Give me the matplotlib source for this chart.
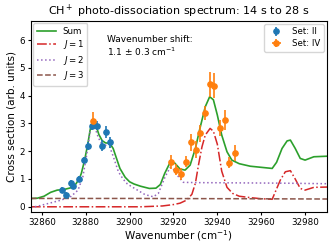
import numpy as np
import matplotlib
matplotlib.use("Agg")
import matplotlib.pyplot as plt

# --- model curves ---
sum_x = [32855, 32858, 32861, 32864, 32867, 32870, 32873, 32875.5, 32877, 32878,
         32879.5, 32881, 32882, 32883, 32884, 32885, 32886, 32887.5, 32889, 32891,
         32892.5, 32894, 32895.6, 32898, 32900, 32902, 32905, 32909, 32912, 32914,
         32916, 32918.5, 32920.5, 32923, 32925.3, 32927.6, 32930, 32932, 32934.5,
         32936.5, 32938.2, 32940, 32942, 32944.4, 32946.6, 32950, 32955, 32960,
         32965, 32967, 32969.5, 32971.8, 32973.3, 32975.5, 32977.8, 32980, 32984, 32990]
sum_y = [0.30, 0.31, 0.38, 0.52, 0.60, 0.62, 0.68, 0.82, 1.00, 1.20,
         1.68, 2.28, 2.76, 3.06, 3.10, 2.85, 2.60, 2.38, 2.30, 2.28,
         2.10, 1.75, 1.38, 1.06, 0.90, 0.82, 0.74, 0.66, 0.67, 0.80,
         1.20, 1.60, 1.58, 1.36, 1.32, 1.50, 2.10, 2.80, 3.60,
         3.96, 3.85, 3.30, 2.58, 1.98, 1.68, 1.55, 1.46, 1.42,
         1.38, 1.60, 2.10, 2.37, 2.40, 2.10, 1.74, 1.68, 1.80, 1.82]

j1_x = [32855, 32905, 32915, 32920, 32923, 32926, 32928.4, 32930, 32931.4, 32933,
        32934.5, 32936.7, 32938.2, 32940, 32942, 32944.4, 32947, 32950, 32955, 32960,
        32965, 32968.7, 32971, 32973.3, 32975.5, 32977.8, 32980, 32984, 32990]
j1_y = [0.0, 0.0, 0.03, 0.08, 0.13, 0.24, 0.45, 0.85, 1.50, 2.16,
        2.58, 2.82, 2.72, 2.25, 1.28, 0.70, 0.48, 0.38, 0.33, 0.29,
        0.27, 0.96, 1.26, 1.30, 1.00, 0.66, 0.60, 0.70, 0.71]

j2_x = [32855, 32858, 32864, 32868.8, 32873.4, 32876.5, 32878.7, 32880.3, 32882, 32883.8,
        32885.7, 32888, 32890.3, 32892.6, 32894.9, 32897, 32899, 32902.5, 32907, 32910.8,
        32913.1, 32916.2, 32918.5, 32920, 32922.3, 32924.5, 32930, 32950, 32970, 32990]
j2_y = [-0.02, 0.02, 0.14, 0.24, 0.38, 0.60, 1.08, 1.80, 2.70, 2.95,
        2.50, 2.14, 2.30, 1.80, 1.26, 1.00, 0.82, 0.65, 0.44, 0.36,
        0.48, 1.08, 1.42, 1.34, 1.08, 0.88, 0.87, 0.86, 0.85, 0.83]

j3_x = [32855, 32900, 32950, 32990]
j3_y = [0.30, 0.30, 0.29, 0.28]

# --- measured points ---
set2_x = [32869.0, 32870.8, 32873.3, 32874.4, 32876.9, 32879.1, 32880.9, 32883.0,
          32885.0, 32887.6, 32889.2, 32891.0]
set2_y = [0.60, 0.43, 0.85, 0.75, 1.00, 1.68, 2.18, 2.92, 2.92, 2.19, 2.68, 2.32]
set2_err = [0.10, 0.10, 0.10, 0.10, 0.12, 0.12, 0.15, 0.15, 0.15, 0.20, 0.22, 0.20]

set4_x = [32883.4, 32918.8, 32921.2, 32923.4, 32925.6, 32928.1, 32930.2, 32932.2,
          32934.5, 32936.7, 32938.6, 32941.3, 32943.6, 32945.5, 32948.2]
set4_y = [3.10, 1.62, 1.34, 1.18, 1.62, 2.32, 2.06, 2.64, 3.38, 4.41, 4.35, 2.84,
          3.12, 1.58, 1.94]
set4_err = [0.30, 0.25, 0.20, 0.20, 0.20, 0.30, 0.30, 0.30, 0.25, 0.45, 0.45, 0.30,
            0.35, 0.20, 0.30]

fig = plt.figure(figsize=(3.32, 2.48), dpi=100)
ax = fig.add_axes([0.093, 0.146, 0.892, 0.771])

l_sum, = ax.plot(sum_x, sum_y, color="tab:green", lw=1.2, label="Sum")
l_j1, = ax.plot(j1_x, j1_y, color="tab:red", lw=1.1, ls="-.", label="$J=1$")
l_j2, = ax.plot(j2_x, j2_y, color="tab:purple", lw=1.1, ls=":", label="$J=2$")
l_j3, = ax.plot(j3_x, j3_y, color="tab:brown", lw=1.1, ls="--", label="$J=3$")

e2 = ax.errorbar(set2_x, set2_y, yerr=set2_err, fmt="o", color="tab:blue",
                 ms=3.8, elinewidth=1.2, label="Set: II", zorder=3)
e4 = ax.errorbar(set4_x, set4_y, yerr=set4_err, xerr=0.6, fmt="o", color="tab:orange",
                 ms=3.8, elinewidth=1.2, label="Set: IV", zorder=3)

ax.set_xlim(32855, 32990)
ax.set_ylim(-0.18, 6.7)
ax.set_xticks([32860, 32880, 32900, 32920, 32940, 32960, 32980])
ax.tick_params(labelsize=6.3, length=2.5, pad=2)
ax.set_xlabel("Wavenumber (cm$^{-1}$)", fontsize=7.5, labelpad=1)
ax.set_ylabel("Cross section (arb. units)", fontsize=7.5, labelpad=2)
ax.set_title("CH$^+$ photo-dissociation spectrum: 14 s to 28 s", fontsize=8, pad=4)

leg1 = ax.legend(handles=[l_sum, l_j1, l_j2, l_j3], loc="upper left", fontsize=6.2,
                 handlelength=2.2, borderaxespad=0.3, labelspacing=0.3)
ax.add_artist(leg1)
ax.legend(handles=[e2, e4], loc="upper right", fontsize=6.2, borderaxespad=0.4,
          labelspacing=0.3)

ax.text(0.257, 0.925, "Wavenumber shift:\n1.1 $\\pm$ 0.3 cm$^{-1}$",
        transform=ax.transAxes, fontsize=6.5, va="top", ha="left")

fig.savefig("out.png", dpi=100)
